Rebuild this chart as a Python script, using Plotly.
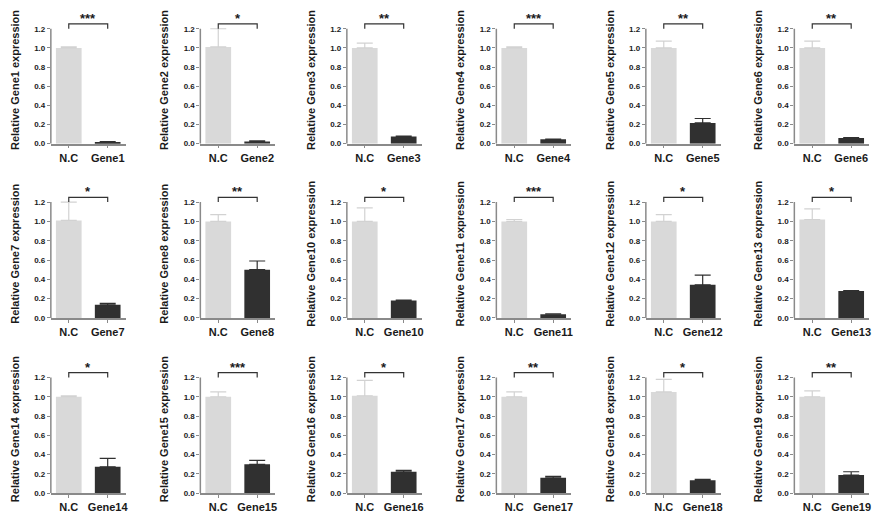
import plotly.graph_objects as go

# ---------------- data ----------------
genes = ["Gene1", "Gene2", "Gene3", "Gene4", "Gene5", "Gene6",
         "Gene7", "Gene8", "Gene10", "Gene11", "Gene12", "Gene13",
         "Gene14", "Gene15", "Gene16", "Gene17", "Gene18", "Gene19"]
control_label = "N.C"
nc_values = [1.00, 1.01, 1.00, 1.00, 1.00, 1.00,
             1.01, 1.00, 1.00, 1.00, 1.00, 1.02,
             1.00, 1.00, 1.01, 1.00, 1.05, 1.00]
nc_errors = [0.01, 0.19, 0.05, 0.01, 0.07, 0.07,
             0.19, 0.07, 0.14, 0.02, 0.07, 0.11,
             0.01, 0.05, 0.16, 0.05, 0.13, 0.06]
gene_values = [0.018, 0.024, 0.075, 0.045, 0.217, 0.059,
               0.136, 0.50, 0.18, 0.04, 0.344, 0.28,
               0.274, 0.30, 0.223, 0.16, 0.134, 0.189]
gene_errors = [0.004, 0.005, 0.004, 0.003, 0.046, 0.005,
               0.016, 0.09, 0.004, 0.004, 0.10, 0.004,
               0.087, 0.04, 0.014, 0.015, 0.010, 0.034]
stars = ["***", "*", "**", "***", "**", "**",
         "*", "**", "*", "***", "*", "*",
         "*", "***", "*", "**", "*", "**"]
y_tick_values = [0.0, 0.2, 0.4, 0.6, 0.8, 1.0, 1.2]
y_tick_labels = ["0.0", "0.2", "0.4", "0.6", "0.8", "1.0", "1.2"]

# ---------------- style / layout ----------------
W, H = 892, 520
LIGHT = "#d9d9d9"
LIGHT_ERR = "#d2d2d2"
DARK = "#303030"
AXIS = "#8a8a8a"
TEXT = "#1a1a1a"
FONT = "Liberation Sans"

col_left_px = [43, 193, 340, 490, 640, 789]
axis_width_px = 75
# (pixel y of value 0, pixels per unit) for each row
row_geom = [(137, 96.7), (313, 97.5), (490, 97.5)]
Y_TOP = 1.33
X_RANGE = [-0.46, 1.46]
BRACKET_Y = 1.25
BRACKET_FOOT = 1.2

fig = go.Figure()
layout_axes = {}
shapes = []
annotations = []

for i, gene in enumerate(genes):
    r, c = divmod(i, 6)
    n = i + 1
    xs = "x" if n == 1 else f"x{n}"
    ys = "y" if n == 1 else f"y{n}"
    xk = "xaxis" if n == 1 else f"xaxis{n}"
    yk = "yaxis" if n == 1 else f"yaxis{n}"

    fig.add_trace(go.Bar(
        x=[control_label], y=[nc_values[i]], width=0.66,
        marker=dict(color=LIGHT, line=dict(width=0)),
        error_y=dict(type="data", symmetric=False, array=[nc_errors[i]],
                     arrayminus=[0], color=LIGHT_ERR, thickness=1.2, width=8),
        xaxis=xs, yaxis=ys, showlegend=False, hoverinfo="skip"))
    fig.add_trace(go.Bar(
        x=[gene], y=[gene_values[i]], width=0.66,
        marker=dict(color=DARK, line=dict(width=0)),
        error_y=dict(type="data", symmetric=False, array=[gene_errors[i]],
                     arrayminus=[0], color=DARK, thickness=1.2, width=8),
        xaxis=xs, yaxis=ys, showlegend=False, hoverinfo="skip"))

    left = col_left_px[c]
    y0px, ppu = row_geom[r]
    ytop_px = y0px - Y_TOP * ppu
    layout_axes[xk] = dict(
        domain=[left / W, (left + axis_width_px) / W],
        anchor=ys, type="category",
        categoryorder="array", categoryarray=[control_label, gene],
        range=X_RANGE, showline=True, linecolor=AXIS, linewidth=1.5,
        ticks="outside", ticklen=3, tickwidth=1, tickcolor=AXIS,
        showgrid=False, zeroline=False, fixedrange=True,
        tickfont=dict(family=FONT, size=11, color=TEXT, weight="bold"),
    )
    layout_axes[yk] = dict(
        domain=[(H - y0px) / H, (H - ytop_px) / H],
        anchor=xs, range=[0, Y_TOP], showline=False,
        tickmode="array", tickvals=y_tick_values, ticktext=y_tick_labels,
        ticks="outside", ticklen=3, tickwidth=1, tickcolor=AXIS,
        showgrid=False, zeroline=False, fixedrange=True,
        tickfont=dict(family=FONT, size=8, color=TEXT, weight="bold"),
        title=dict(text=f"Relative {gene} expression", standoff=12,
                   font=dict(family=FONT, size=11, color=TEXT, weight="bold")),
    )
    # y axis line from 0 to 1.2
    shapes.append(dict(type="line", xref=f"{xs} domain", yref=ys,
                       x0=0, x1=0, y0=0, y1=y_tick_values[-1],
                       line=dict(color=AXIS, width=1.5)))
    # significance bracket
    shapes.append(dict(type="path", xref=xs, yref=ys,
                       path=f"M 0,{BRACKET_FOOT} L 0,{BRACKET_Y} L 1,{BRACKET_Y} L 1,{BRACKET_FOOT}",
                       line=dict(color="#333333", width=1.2)))
    annotations.append(dict(x=0.5, y=BRACKET_Y, xref=xs, yref=ys,
                            text=stars[i], showarrow=False, yanchor="bottom",
                            yshift=-4,
                            font=dict(family=FONT, size=13, color=TEXT, weight="bold")))

fig.update_layout(
    width=W, height=H, margin=dict(l=0, r=0, t=0, b=0),
    plot_bgcolor="white", paper_bgcolor="white",
    barmode="overlay", showlegend=False,
    shapes=shapes, annotations=annotations,
    **layout_axes,
)

fig.write_html("out.html")
